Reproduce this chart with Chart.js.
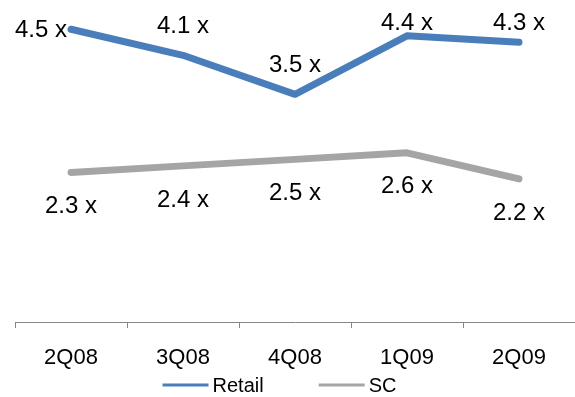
<!DOCTYPE html>
<html>
<head>
<meta charset="utf-8">
<script src="https://cdn.jsdelivr.net/npm/chart.js@4"></script>
<style>
  html, body { margin: 0; padding: 0; background: #fff; }
  #wrap { width: 575px; height: 397px; }
</style>
</head>
<body>
<div id="wrap"><canvas id="multipleChart"></canvas></div>
<script>
const quarters = ["2Q08", "3Q08", "4Q08", "1Q09", "2Q09"];
const retail = [4.5, 4.1, 3.5, 4.4, 4.3];
const sc = [2.3, 2.4, 2.5, 2.6, 2.2];

// where each value label sits relative to its point
const retailPlace = ["left", "above", "above", "above", "above"];
const scPlace = ["below", "below", "below", "below", "below"];

const FONT = "'Liberation Sans', Arial, sans-serif";

// value labels "4.5 x" etc.
const valueLabels = {
  id: "valueLabels",
  afterDatasetsDraw(chart) {
    const ctx = chart.ctx;
    const places = [retailPlace, scPlace];
    ctx.save();
    ctx.font = "24px " + FONT;
    ctx.fillStyle = "#000";
    ctx.textBaseline = "middle";
    chart.data.datasets.forEach((ds, i) => {
      const meta = chart.getDatasetMeta(i);
      meta.data.forEach((pt, j) => {
        const txt = ds.data[j].toFixed(1) + " x";
        const place = places[i][j];
        let x = pt.x, y = pt.y;
        if (place === "left") {
          ctx.textAlign = "right";
          x -= 4;
          y += 1;
        } else if (place === "above") {
          ctx.textAlign = "center";
          y = Math.max(y - 29, 23);
        } else {
          ctx.textAlign = "center";
          y += 34;
        }
        ctx.fillText(txt, x, y);
      });
    });
    ctx.restore();
  }
};

// legend strip under the axis: short line + series name
const legendStrip = {
  id: "legendStrip",
  afterDraw(chart) {
    const ctx = chart.ctx;
    const lineLen = 46, gap = 4, itemGap = 55;
    const y = chart.height - 12;
    ctx.save();
    ctx.font = "20px " + FONT;
    ctx.textBaseline = "middle";
    ctx.textAlign = "left";
    const items = chart.data.datasets.map(ds => ({
      text: ds.label, color: ds.borderColor, w: ctx.measureText(ds.label).width
    }));
    let total = 0;
    items.forEach((it, k) => {
      total += lineLen + gap + it.w + (k < items.length - 1 ? itemGap : 0);
    });
    let x = (chart.width - total) / 2 - 8;
    items.forEach(it => {
      ctx.strokeStyle = it.color;
      ctx.lineWidth = 3;
      ctx.beginPath();
      ctx.moveTo(x, y);
      ctx.lineTo(x + lineLen, y);
      ctx.stroke();
      x += lineLen + gap;
      ctx.fillStyle = "#000";
      ctx.fillText(it.text, x, y + 1);
      x += it.w + itemGap;
    });
    ctx.restore();
  }
};

new Chart(document.getElementById("multipleChart"), {
  type: "line",
  data: {
    labels: quarters,
    datasets: [{
      label: "Retail",
      data: retail,
      borderColor: "#4a7ebb",
      backgroundColor: "#4a7ebb",
      borderWidth: 7,
      borderCapStyle: "round",
      borderJoinStyle: "round",
      pointRadius: 0,
      tension: 0,
      clip: false
    }, {
      label: "SC",
      data: sc,
      borderColor: "#a5a5a5",
      backgroundColor: "#a5a5a5",
      borderWidth: 7,
      borderCapStyle: "round",
      borderJoinStyle: "round",
      pointRadius: 0,
      tension: 0,
      clip: false
    }]
  },
  options: {
    responsive: true,
    maintainAspectRatio: false,
    animation: false,
    layout: { padding: { left: 15, right: 0, top: 0, bottom: 24 } },
    plugins: {
      tooltip: { enabled: false },
      legend: { display: false }
    },
    scales: {
      x: {
        offset: true,
        afterFit(scale) { scale.height = 51; },
        grid: {
          offset: true,
          drawOnChartArea: false,
          drawTicks: true,
          tickLength: 6,
          color: "#868686"
        },
        border: { color: "#868686", width: 1 },
        ticks: {
          font: { family: FONT, size: 22 },
          color: "#000",
          padding: 17
        }
      },
      y: {
        display: false,
        min: 0,
        max: 4.95
      }
    }
  },
  plugins: [valueLabels, legendStrip]
});
</script>
</body>
</html>
